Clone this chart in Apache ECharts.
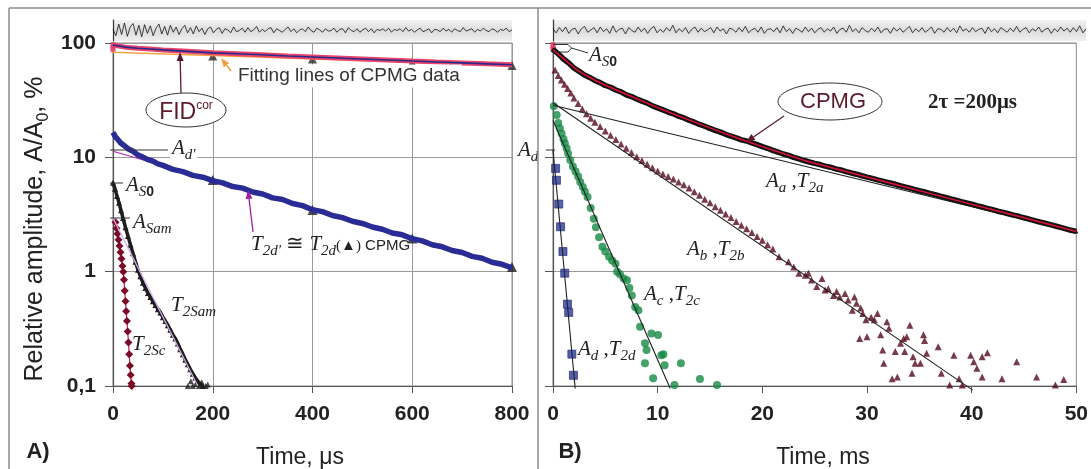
<!DOCTYPE html>
<html>
<head>
<meta charset="utf-8">
<script src="https://cdn.jsdelivr.net/npm/echarts@6/dist/echarts.min.js"></script>
<style>
html,body{margin:0;padding:0;background:#fff;}
#chart{width:1091px;height:469px;}
</style>
</head>
<body>
<div id="chart"></div>
<script>
// ===== Panel A: FID and CPMG amplitudes, time in µs =====
const fidUs = [[0,96],[25,92],[50,90],[75,88.5],[100,87],[150,84.5],[200,82],[250,80.5],[300,79],[350,77],[400,75.5],[450,74],[500,72.5],[550,71],[600,69.5],[650,68.2],[700,67],[750,65.7],[800,64.5]];
const fidStartUs = [[0,96],[0,92],[0,88]];
const cpmgEchoUs = [[200,77],[400,72.5],[600,68],[800,63.5]];
const cpmgFitUs = [[0,83],[800,63.5]];
const dPrimeUs = [[0,16.5],[5,15.1],[10,14.3],[15,13.4],[20,12.9],[30,11.9],[40,11.3],[50,10.5],[60,10.05],[70,9.55],[80,9.25],[90,8.75],[100,8.5],[120,7.85],[140,7.5],[160,6.95],[180,6.7],[200,6.25],[220,5.98],[240,5.55],[260,5.38],[280,4.98],[300,4.78],[320,4.42],[340,4.28],[360,3.95],[380,3.78],[400,3.48],[420,3.35],[440,3.1],[460,2.97],[480,2.76],[500,2.64],[520,2.46],[540,2.35],[560,2.18],[580,2.1],[600,1.94],[620,1.86],[640,1.72],[660,1.65],[680,1.53],[700,1.47],[720,1.36],[740,1.31],[760,1.21],[780,1.16],[800,1.08]];
const dEchoUs = [[200,6.33],[400,3.46],[600,1.95],[800,1.1]];
const dPrimeFitUs = [[0,11.3],[800,1.1]];
const samUs = [[0,6.0],[4,5.3],[8,4.6],[12,4.0],[16,3.45],[20,2.95],[25,2.45],[30,2.05],[35,1.72],[40,1.45],[45,1.22],[50,1.04],[55,0.91],[60,0.8],[65,0.72],[70,0.65],[75,0.6],[80,0.55],[85,0.51],[90,0.47],[95,0.44],[100,0.4],[105,0.37],[110,0.34],[115,0.31],[120,0.28],[125,0.26],[130,0.235],[135,0.21],[140,0.19],[145,0.17],[150,0.155],[155,0.14],[160,0.128],[165,0.118],[170,0.11],[175,0.104],[180,0.1]];
const samTailUs = [[150,0.1],[156,0.11],[160,0.1],[166,0.104],[172,0.1],[178,0.108],[186,0.1],[190,0.103]];
const samFitUs = [[0,2.94],[170,0.1]];
const scUs = [[5,2.7],[7,2.4],[9,2.15],[11,1.9],[13,1.68],[15,1.48],[17,1.3],[19,1.12],[20.5,1.0],[22,0.85],[23.5,0.68],[25,0.55],[26.5,0.45],[28,0.37],[29.5,0.3],[31,0.24],[32.5,0.19],[34,0.15],[35.5,0.125],[37,0.105],[37.5,0.1]];
const residualA = [0.2,-0.9,1.1,-0.7,1.3,-1.0,0.6,1.2,-0.8,0.9,-1.1,1.0,-0.5,0.8,-0.9,0.4,1.1,-0.6,0.7,-0.8,0.9,-0.3,0.6,-0.7,0.3,0.9,-0.4,0.5,-0.6,0.8,-0.2,0.4,-0.7,0.3,0.6,-0.4,0.2,0.5,-0.5,0.3,0.1,-0.4,0.6,-0.2,0.0,0.4,-0.3,0.5,-0.2,0.1,0.7,-0.3,0.2,-0.2,0.3,0.5,-0.4,0.3,0.0,-0.3,0.2,0.6,-0.2,0.3,-0.4,0.1,0.3,-0.2,0.6,0.0,-0.3,0.4,0.1,-0.3,0.3,-0.1,0.0,0.4,-0.3,0.2,0.3,-0.4,0.5,0.0,-0.2,0.3,-0.3,0.1,0.4,-0.2,0.3,-0.4,0.2,0.0,0.3,-0.1,0.4,-0.3,0.2,0.0,0.3,-0.2,0.5,-0.1,0.2,-0.3,0.1,0.4,-0.2,0.0,0.3,-0.4,0.2,0.1,-0.2,0.4,-0.1,0.2,-0.3,0.3,0.0,-0.2,0.5,-0.1,0.1,0.3,-0.3,0.2,-0.1,0.4,0.0,-0.2,0.3,0.1,-0.3,0.2,0.0,0.4,-0.2,0.1];

// ===== Panel B: CPMG decay and its components, time in ms =====
const cpmgMs = [[0,88],[0.5,80.5],[1,72.5],[1.5,66.8],[2,60.5],[2.5,56.5],[3,52.5],[3.5,50],[4,47],[4.5,45],[5,42.5],[5.5,41],[6,38.8],[6.5,37.4],[7,35.2],[7.5,34],[8,32.4],[8.5,31],[9,29.8],[9.5,28.2],[10,27.1],[10.5,26],[11,24.9],[11.5,24],[12,22.9],[12.5,22.1],[13,21.1],[13.5,20.3],[14,19.4],[14.5,18.7],[15,17.9],[15.5,17.2],[16,16.6],[16.5,15.9],[17,15.3],[17.5,14.8],[18,14.2],[18.5,13.9],[19,13.4],[19.5,12.9],[20,12.4],[20.5,12.0],[21,11.5],[21.5,11.1],[22,10.7],[22.5,10.4],[23,10.0],[23.5,9.7],[24,9.38],[24.5,9.1],[25,8.85],[25.5,8.65],[26,8.38],[26.5,8.2],[27,7.93],[27.5,7.75],[28,7.5],[28.5,7.3],[29,7.12],[29.5,6.9],[30,6.72],[30.5,6.55],[31,6.36],[31.5,6.2],[32,6.02],[32.5,5.88],[33,5.7],[33.5,5.55],[34,5.4],[34.5,5.24],[35,5.1],[35.5,4.98],[36,4.84],[36.5,4.72],[37,4.58],[37.5,4.46],[38,4.33],[38.5,4.22],[39,4.1],[39.5,4.0],[40,3.9],[40.5,3.78],[41,3.68],[41.5,3.58],[42,3.49],[42.5,3.38],[43,3.3],[43.5,3.21],[44,3.12],[44.5,3.05],[45,2.96],[45.5,2.88],[46,2.8],[46.5,2.72],[47,2.65],[47.5,2.58],[48,2.51],[48.5,2.44],[49,2.37],[49.5,2.3],[50,2.25]];
const cpmgFitMs = [[0,87],[1,73],[2,61],[3,53],[4,47.2],[5,42.7],[6,39],[7,35.6],[8,32.5],[10,27.2],[12,23],[14,19.6],[16,16.7],[18,14.3],[20,12.4],[22,10.8],[24,9.4],[27,7.95],[30,6.72],[33,5.7],[36,4.84],[39,4.1],[42,3.48],[45,2.96],[48,2.51],[50,2.25]];
const cpmgStartMs = [[0,96],[0,92],[0,88]];
const aFitMs = [[0,28.5],[50,2.22]];
const bMs = [[0.2,58],[0.5,52],[0.8,47.5],[1.1,43.5],[1.4,40],[1.7,36.5],[2,33],[2.4,29.5],[2.8,26.5],[3.2,24],[3.6,22],[4,20.3],[4.5,18.6],[5,17],[5.5,15.6],[6,14.3],[6.5,13.1],[7,12],[7.5,11],[8,10.1],[8.5,9.4],[9,8.7],[9.5,8.1],[10,7.6],[10.5,7.15],[11,6.8],[11.5,6.45],[12,6.1],[12.5,5.75],[13,5.4],[13.5,5.0],[14,4.65],[14.5,4.3],[15,4.0],[15.5,3.7],[16,3.45],[16.5,3.2],[17,2.97],[17.5,2.75],[18,2.55],[18.5,2.37],[19,2.2],[19.5,2.03],[20,1.88],[20.5,1.72],[21,1.58],[21.6,1.35],[22.5,1.22],[23,1.1],[23.5,0.97],[24.1,0.93],[24.4,0.97],[24.7,0.845],[25.2,0.74],[25.7,0.87],[26,0.69],[26.3,0.71],[26.8,0.62],[27.1,0.67],[27.4,0.6],[27.9,0.645],[28.2,0.565],[28.8,0.6],[29,0.53],[28.6,0.46],[29.4,0.48],[29.6,0.43],[29.9,0.38],[30.4,0.4],[30.7,0.38],[31,0.43],[31.3,0.28],[31.9,0.365],[32.1,0.32],[33.2,0.236],[33.5,0.26],[33.8,0.27],[34.1,0.34],[35.4,0.28],[35.5,0.25],[29.3,0.26],[30,0.27],[31.5,0.206],[31.6,0.158],[32.7,0.2],[33.6,0.2],[34.4,0.18],[34.6,0.158],[35.1,0.158],[35.7,0.193],[36.8,0.22],[37.1,0.129],[38.3,0.186],[38.8,0.116],[39.9,0.186],[40.2,0.163],[40.5,0.143],[41,0.12],[41,0.18],[41.5,0.195],[42.9,0.116],[44.3,0.163],[46.2,0.12],[48,0.102],[48.8,0.114],[37.9,0.102],[34.3,0.129],[32.4,0.116],[32.9,0.12],[39.1,0.102]];
const bFitMs = [[0,30],[40.1,0.092]];
const cMs = [[0.08,28],[0.35,23.5],[0.5,20],[0.65,18],[0.82,16.2],[1.0,14.5],[1.13,13.3],[1.3,12],[1.44,10.8],[1.65,9.5],[1.9,8.3],[2.15,7.5],[2.4,6.8],[2.6,6.1],[2.85,5.5],[3.05,5],[3.3,4.5],[3.6,3.6],[3.9,2.9],[4.1,2.45],[4.4,2.0],[4.72,1.65],[5.0,1.5],[5.35,1.35],[5.65,1.25],[5.97,1.17],[6.13,1.0],[6.4,0.95],[6.75,0.87],[7.07,0.84],[7.3,0.72],[7.53,0.62],[7.85,0.49],[8.16,0.46],[8.32,0.33],[8.79,0.236],[8.94,0.206],[9.41,0.288],[10.04,0.279],[10.35,0.186],[10.55,0.19],[8.79,0.158],[10.66,0.152],[12.22,0.158],[9.57,0.117],[11.6,0.102],[14.04,0.115],[15.67,0.102]];
const cFitMs = [[0,21],[11.2,0.095]];
const dMs = [[0.25,8.0],[0.33,6.3],[0.55,3.9],[0.72,2.47],[0.95,1.5],[1.12,0.97],[1.38,0.52],[1.5,0.44],[1.8,0.19],[1.95,0.124]];
const dFitMs = [[0,11.6],[2.12,0.095]];
const residualB = [0.3,-0.4,0.5,-0.2,0.6,-0.5,0.2,0.4,-0.6,0.3,0.7,-0.3,0.1,0.5,-0.4,0.6,-0.2,0.3,-0.5,0.8,-0.3,0.2,0.4,-0.6,0.5,0.0,-0.3,0.6,-0.2,0.4,-0.5,0.3,0.7,-0.4,0.2,-0.3,0.5,-0.1,0.9,-0.4,0.3,-0.2,0.5,-0.5,0.2,0.6,-0.3,0.4,-0.2,0.1,0.5,-0.4,0.6,-0.1,0.3,-0.6,0.4,0.2,-0.3,0.5,-0.2,0.7,-0.4,0.1,0.4,-0.3,0.6,-0.5,0.2,0.3,-0.2,0.5,-0.4,0.8,-0.2,0.3,-0.5,0.4,0.1,-0.3,0.6,-0.2,0.4,-0.4,0.2,0.5,-0.3,0.3,-0.1,0.6,-0.5,0.2,0.4,-0.3,0.9,-0.2,0.3,-0.4,0.5,0.0,-0.3,0.4,-0.2,0.6,-0.4,0.2,0.3,-0.5,0.5,-0.1,0.4,-0.3,0.2,0.7,-0.4,0.3,-0.2,0.5,-0.3,0.1,0.6,-0.5,0.3,0.2,-0.3,0.5,-0.2,0.4,-0.4,0.8,-0.1,0.3,-0.3,0.5,-0.2,0.2,0.4,-0.5,0.6,-0.2,0.3,-0.4,0.5,0.1,-0.3,0.4,-0.2,0.7,-0.3,0.2,0.5,-0.4,0.3,-0.1,0.6,-0.3,0.2,0.4,-0.5,0.3,-0.2,0.6,-0.1,0.4,-0.3,0.5,-0.2,0.8,-0.4,0.3];

const SANS = "'Liberation Sans', Arial, sans-serif";
const SERIF = "'Liberation Serif', 'Times New Roman', serif";
const MAROON = '#5b1a2a';

const chart = echarts.init(document.getElementById('chart'), null, {renderer: 'canvas'});

function logAxis(gridIndex, showLabels) {
  return {
    gridIndex, type: 'log', logBase: 10, min: 0.1, max: 100,
    axisLine: {show: true, lineStyle: {color: '#555', width: 1.2}},
    axisTick: {show: true, length: 8, lineStyle: {color: '#555'}},
    axisLabel: {
      show: showLabels, margin: 17, fontSize: 21, fontWeight: 'bold', color: '#222', fontFamily: SANS,
      formatter: v => (v < 0.5 ? '0,1' : String(Math.round(v)))
    },
    splitLine: {show: true, lineStyle: {color: '#9a9a9a', width: 1}}
  };
}
function timeAxis(gridIndex, max, interval, grid) {
  return {
    gridIndex, type: 'value', min: 0, max, interval,
    axisLine: {show: true, onZero: false, lineStyle: {color: '#555', width: 1.2}},
    axisTick: {show: true, length: 7, lineStyle: {color: '#555'}},
    axisLabel: {margin: 18, fontSize: 21, fontWeight: 'bold', color: '#222', fontFamily: SANS},
    splitLine: {show: grid, lineStyle: {color: '#9a9a9a', width: 1}}
  };
}
function stripAxes(gridIndex, n) {
  return [
    {gridIndex, type: 'category', boundaryGap: false, data: Array.from({length: n}, (_, i) => i), show: false},
    {gridIndex, type: 'value', min: -1.8, max: 1.8, axisLine: {show: true, lineStyle: {color: '#333', width: 1.2}},
     axisTick: {show: false}, axisLabel: {show: false}, splitLine: {show: false}}
  ];
}
const stripBg = new echarts.graphic.LinearGradient(0, 0, 0, 1, [
  {offset: 0, color: '#f2f2f2'}, {offset: 0.5, color: '#dcdcdc'}, {offset: 1, color: '#efefef'}
]);

function line(x, y, data, color, width, extra) {
  return Object.assign({type: 'line', xAxisIndex: x, yAxisIndex: y, data, symbol: 'none', clip: false,
    lineStyle: {color, width}, silent: true}, extra || {});
}
function dots(x, y, data, symbol, size, color, extra) {
  return Object.assign({type: 'scatter', xAxisIndex: x, yAxisIndex: y, data, symbol, symbolSize: size, clip: false,
    itemStyle: {color}, silent: true}, extra || {});
}

// ---- annotation helpers ----
function arrow(x1, y1, x2, y2, color, w) {
  const a = Math.atan2(y2 - y1, x2 - x1), L = 9, W = 3.5;
  const bx = x2 - L * Math.cos(a), by = y2 - L * Math.sin(a);
  return [
    {type: 'line', z: 40, shape: {x1, y1, x2: bx, y2: by}, style: {stroke: color, lineWidth: w || 1.3}},
    {type: 'polygon', z: 40, shape: {points: [[x2, y2], [bx - W * Math.sin(a), by + W * Math.cos(a)], [bx + W * Math.sin(a), by - W * Math.cos(a)]]}, style: {fill: color}}
  ];
}
function seg(x1, y1, x2, y2, color, w) {
  return {type: 'line', z: 40, shape: {x1, y1, x2, y2}, style: {stroke: color || '#333', lineWidth: w || 1}};
}
const subRich = {
  m: {fontFamily: SERIF, fontStyle: 'italic', fontSize: 21, padding: [0, 0, 4, 0], verticalAlign: 'top', fill: '#222'},
  s: {fontFamily: SERIF, fontStyle: 'italic', fontSize: 15, verticalAlign: 'bottom', fill: '#222'},
  u: {fontFamily: SANS, fontSize: 14, fontWeight: 'bold', verticalAlign: 'bottom', fill: '#222'},
  r: {fontFamily: SERIF, fontSize: 21, padding: [0, 0, 4, 0], verticalAlign: 'top', fill: '#222'},
  tri: {fontFamily: SERIF, fontSize: 15, verticalAlign: 'middle', fill: '#222'},
  cp: {fontFamily: SANS, fontSize: 15, verticalAlign: 'middle', fill: '#222'}
};
function label(x, y, text, bg) {
  const st = {text, rich: subRich, align: 'left', verticalAlign: 'middle', fill: '#222'};
  if (bg) { st.backgroundColor = '#fff'; st.padding = [0, 2]; }
  return {type: 'text', x, y, z: 35, style: st};
}

const graphics = [
  // figure frame and panel divider
  seg(9, 8, 1091, 8, '#8c8c8c', 1.5),
  seg(9, 8, 9, 469, '#8c8c8c', 1.5),
  seg(538, 8, 538, 469, '#8c8c8c', 1.5),
  // axis titles and panel letters
  {type: 'text', x: 37, y: 229, rotation: Math.PI / 2, z: 30,
   style: {text: '{t|Relative amplitude, A/A}{o|0}{t|, %}', align: 'center', verticalAlign: 'middle',
     rich: {t: {fontFamily: SANS, fontSize: 25, fill: '#222', verticalAlign: 'top', padding: [0, 0, 4, 0]},
            o: {fontFamily: SANS, fontSize: 16, fill: '#222', verticalAlign: 'bottom'}}}},
  {type: 'text', x: 300, y: 458, z: 30, style: {text: 'Time, μs', font: '23px ' + SANS, fill: '#222', align: 'center', verticalAlign: 'middle'}},
  {type: 'text', x: 823, y: 458, z: 30, style: {text: 'Time, ms', font: '23px ' + SANS, fill: '#222', align: 'center', verticalAlign: 'middle'}},
  {type: 'text', x: 38, y: 452, z: 30, style: {text: 'A)', font: 'bold 22px ' + SANS, fill: '#222', align: 'center', verticalAlign: 'middle'}},
  {type: 'text', x: 570, y: 452, z: 30, style: {text: 'B)', font: 'bold 22px ' + SANS, fill: '#222', align: 'center', verticalAlign: 'middle'}},

  // ---- panel A notes ----
  {type: 'ellipse', z: 30, shape: {cx: 186, cy: 110, rx: 40, ry: 17}, style: {fill: '#fff', stroke: '#333', lineWidth: 1}},
  {type: 'text', x: 186, y: 110, z: 35, style: {text: '{f|FID}{p|cor}', align: 'center', verticalAlign: 'middle',
     rich: {f: {fontFamily: SANS, fontSize: 23, padding: [6, 0, 0, 0], verticalAlign: 'bottom', fill: MAROON},
            p: {fontFamily: SANS, fontSize: 12, padding: [4, 0, 0, 0], verticalAlign: 'top', fill: MAROON}}}},
  ...arrow(181, 93, 180, 52, MAROON, 1.3),
  {type: 'text', x: 236, y: 76, z: 35, style: {text: 'Fitting lines of CPMG data', font: '19px ' + SANS, fill: '#333',
     align: 'left', verticalAlign: 'middle', backgroundColor: '#fff', padding: [2, 2]}},
  ...arrow(231, 71, 221, 58, '#f0a040', 1.5),
  seg(110, 150, 168, 150, '#333', 1),
  label(170, 150, "{m|A}{s|d'}", true),
  seg(110, 183, 123, 183, '#333', 1),
  label(124, 187, '{m|A}{s|S}{u|0}', true),
  seg(110, 218, 130, 218, '#333', 1),
  label(131, 224, '{m|A}{s|Sam}', true),
  label(251, 246, "{m|T}{s|2d'}{r| ≅ }{m|T}{s|2d}{tri|(▲)}{cp| CPMG}", false),
  ...arrow(253, 232, 248, 190, '#a020a0', 1.3),
  label(171, 307, '{m|T}{s|2Sam}', false),
  label(132, 346, '{m|T}{s|2Sc}', false),

  // ---- panel B notes ----
  {type: 'polyline', z: 40, shape: {points: [[553, 44.5], [568, 44.5], [571.5, 48], [568, 52], [553, 52]]}, style: {stroke: '#333', lineWidth: 1, fill: 'none'}},
  seg(571.5, 48, 588, 53, '#333', 1),
  label(589, 57, '{m|A}{s|S}{u|0}', false),
  seg(546, 150, 555, 150, '#333', 1),
  label(518, 152, '{m|A}{s|d}', false),
  {type: 'ellipse', z: 30, shape: {cx: 830, cy: 101.5, rx: 52, ry: 18.5}, style: {fill: '#fff', stroke: '#333', lineWidth: 1}},
  {type: 'text', x: 833, y: 102, z: 35, style: {text: 'CPMG', font: '22px ' + SANS, fill: MAROON, align: 'center', verticalAlign: 'middle'}},
  ...arrow(784, 116, 746, 142, MAROON, 1.3),
  {type: 'text', x: 928, y: 103, z: 35, style: {text: '2τ =200μs', font: 'bold 21px ' + SERIF, fill: '#222', align: 'left', verticalAlign: 'middle'}},
  label(766, 183, '{m|A}{s|a}{r| ,}{m|T}{s|2a}', false),
  label(687, 251, '{m|A}{s|b}{r| ,}{m|T}{s|2b}', false),
  label(644, 296, '{m|A}{s|c}{r| ,}{m|T}{s|2c}', false),
  label(578, 351, '{m|A}{s|d}{r| ,}{m|T}{s|2d}', false)
];

const option = {
  animation: false,
  backgroundColor: '#fff',
  grid: [
    {left: 113, top: 43, width: 399, height: 343, show: true, borderColor: '#8a8a8a', borderWidth: 1, backgroundColor: 'transparent'},
    {left: 553, top: 43, width: 533, height: 343, show: true, borderColor: '#8a8a8a', borderWidth: 1, backgroundColor: 'transparent'},
    {left: 113, top: 20, width: 399, height: 21, show: true, borderWidth: 0, backgroundColor: stripBg},
    {left: 553, top: 20, width: 533, height: 21, show: true, borderWidth: 0, backgroundColor: stripBg}
  ],
  xAxis: [timeAxis(0, 800, 200, true), timeAxis(1, 50, 10, false), stripAxes(2, residualA.length)[0], stripAxes(3, residualB.length)[0]],
  yAxis: [logAxis(0, true), logAxis(1, false), stripAxes(2, residualA.length)[1], stripAxes(3, residualB.length)[1]],
  series: [
    // panel A
    line(0, 0, cpmgFitUs, '#f5a442', 1.6),
    line(0, 0, fidUs, '#e8456c', 5),
    line(0, 0, fidUs, '#2a2a8a', 1.6),
    dots(0, 0, fidStartUs, 'rect', [5, 6], '#e8456c'),
    dots(0, 0, cpmgEchoUs, 'triangle', 9, '#2b2b2b'),
    line(0, 0, dPrimeFitUs, '#b02ab0', 1.2),
    line(0, 0, dPrimeUs, '#2b2b96', 5.5),
    dots(0, 0, dEchoUs, 'triangle', 10, '#1e1e1e'),
    line(0, 0, samUs, '#1e1e1e', 3.5, {symbol: 'triangle', symbolSize: 6, showAllSymbol: true, itemStyle: {color: '#1e1e1e'}}),
    dots(0, 0, samTailUs, 'triangle', 6, '#1e1e1e'),
    line(0, 0, samFitUs, '#d2aef0', 1.2, {z: 4}),
    line(0, 0, scUs, '#c02050', 1.2, {symbol: 'diamond', symbolSize: 8, showAllSymbol: true, itemStyle: {color: '#7a0a28'}}),
    // panel B
    line(1, 1, aFitMs, '#222', 1.1),
    line(1, 1, cpmgMs, '#141414', 5.5, {symbol: 'triangle', symbolSize: 4, showAllSymbol: true, itemStyle: {color: '#141414'}}),
    line(1, 1, cpmgFitMs, '#e0103a', 1.5, {z: 4}),
    dots(1, 1, cpmgStartMs, 'rect', [5, 6], '#e8456c'),
    dots(1, 1, bMs, 'triangle', 7, '#55091c'),
    dots(1, 1, cMs, 'circle', 8, '#178a45'),
    dots(1, 1, dMs, 'rect', 8, '#2a3a9a', {itemStyle: {color: '#2a3a9a', borderColor: '#1a2070', borderWidth: 0.8}}),
    line(1, 1, bFitMs, '#222', 1.1, {z: 4}),
    line(1, 1, cFitMs, '#222', 1.1, {z: 4}),
    line(1, 1, dFitMs, '#222', 1.1, {z: 4}),
    // residual strips
    line(2, 2, residualA, '#111', 0.8, {clip: true}),
    line(3, 3, residualB, '#111', 0.8, {clip: true})
  ],
  graphic: {elements: graphics}
};
chart.setOption(option);
</script>
</body>
</html>
